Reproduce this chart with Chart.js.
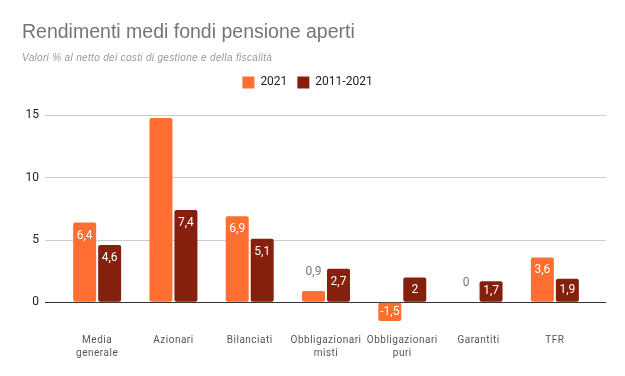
<!DOCTYPE html>
<html>
<head>
<meta charset="utf-8">
<script src="https://cdn.jsdelivr.net/npm/chart.js@4.4.1/dist/chart.umd.min.js"></script>
<style>
  html, body { margin: 0; padding: 0; background: #fff; }
  #wrap { width: 625px; height: 376px; }
</style>
</head>
<body>
<div id="wrap"><canvas id="fondiChart"></canvas></div>
<script>
// dati
const categories = [["Media", "generale"], ["Azionari"], ["Bilanciati"], ["Obbligazionari", "misti"], ["Obbligazionari", "puri"], ["Garantiti"], ["TFR"]];
const values2021 = [6.4, 14.8, 6.9, 0.9, -1.5, 0, 3.6];
const values2011_2021 = [4.6, 7.4, 5.1, 2.7, 2, 1.7, 1.9];
const show2021 = [true, false, true, true, true, true, true];
const show2011_2021 = [true, true, true, true, true, true, true];
const yTicks = [0, 5, 10, 15];

const orange = '#ff6f31';
const darkRed = '#86200e';
const subtitleText = 'Valori % al netto dei costi di gestione e della fiscalità';

Chart.defaults.font.family = 'Roboto, Arial, sans-serif';

// etichette dei valori (niente plugin datalabels disponibile)
const valueLabels = {
  id: 'valueLabels',
  afterDatasetsDraw(chart) {
    const ctx = chart.ctx;
    const shows = [show2021, show2011_2021];
    ctx.save();
    ctx.font = '12px Roboto, Arial, sans-serif';
    ctx.textAlign = 'center';
    ctx.textBaseline = 'middle';
    chart.data.datasets.forEach((ds, di) => {
      chart.getDatasetMeta(di).data.forEach((bar, i) => {
        if (!shows[di][i]) return;
        const v = ds.data[i];
        const txt = String(v).replace('.', ',');
        const h = Math.abs(bar.base - bar.y);
        let y;
        if (h < 16) {
          ctx.fillStyle = '#777';
          y = Math.min(bar.y, bar.base) - 19;
        } else {
          ctx.fillStyle = '#fff';
          const off = Math.min(13, h / 2);
          y = v >= 0 ? bar.y + off : bar.y - off;
        }
        ctx.fillText(txt, bar.x, y);
      });
    });
    ctx.restore();
  }
};

function addSpacing(box, spacing) {
  if (!box || box._spaced) return;
  const orig = box.draw.bind(box);
  box.draw = function (area) {
    this.ctx.save();
    this.ctx.letterSpacing = spacing;
    orig(area);
    this.ctx.restore();
  };
  box._spaced = true;
}

// griglia prolungata a destra, spaziatura lettere, spazio sotto la legenda
const tweaks = {
  id: 'tweaks',
  beforeInit(chart) {
    const fit = chart.legend.fit;
    chart.legend.fit = function () {
      fit.call(this);
      this.height += 17;
    };
  },
  afterLayout(chart) {
    const s = chart.scales.x;
    if (!s._spaced) {
      const orig = s.drawLabels.bind(s);
      s.drawLabels = function (area) {
        this.ctx.save();
        this.ctx.letterSpacing = '0.5px';
        orig(area);
        this.ctx.restore();
      };
      s._spaced = true;
    }
    const sub = chart.boxes.find(b => b.options && b.options.text === subtitleText);
    addSpacing(sub, '0.33px');
  },
  beforeDatasetsDraw(chart) {
    const ctx = chart.ctx;
    const y = chart.scales.y;
    const r = chart.chartArea.right;
    ctx.save();
    ctx.lineWidth = 1;
    yTicks.forEach(t => {
      const py = Math.round(y.getPixelForValue(t) - 0.5) + 0.5;
      ctx.strokeStyle = t === 0 ? '#333' : '#ccc';
      ctx.beginPath();
      ctx.moveTo(r, py);
      ctx.lineTo(r + 13, py);
      ctx.stroke();
    });
    ctx.restore();
  }
};

new Chart('fondiChart', {
  type: 'bar',
  data: {
    labels: categories,
    datasets: [
      { label: '2021', data: values2021, backgroundColor: orange },
      { label: '2011-2021', data: values2011_2021, backgroundColor: darkRed }
    ]
  },
  options: {
    responsive: true,
    maintainAspectRatio: false,
    animation: false,
    layout: { padding: { left: 22, right: 32, top: 0, bottom: 3 } },
    datasets: {
      bar: {
        categoryPercentage: 0.655,
        barPercentage: 0.92,
        borderRadius: 2,
        borderSkipped: false
      }
    },
    plugins: {
      title: {
        display: true,
        text: 'Rendimenti medi fondi pensione aperti',
        align: 'start',
        color: '#757575',
        font: { family: '"Liberation Sans", Arial, sans-serif', size: 19.5, weight: 'normal' },
        padding: { top: 21, bottom: 0 }
      },
      subtitle: {
        display: true,
        text: subtitleText,
        align: 'start',
        color: '#999',
        font: { family: '"Liberation Sans", Arial, sans-serif', size: 10, style: 'italic' },
        padding: { top: 8, bottom: 2 }
      },
      legend: {
        labels: {
          color: '#222',
          font: { size: 12 },
          boxWidth: 12,
          boxHeight: 12,
          padding: 10
        }
      },
      tooltip: { enabled: false }
    },
    scales: {
      x: {
        grid: { display: false, drawTicks: false },
        border: { display: false },
        ticks: {
          color: '#555',
          font: { size: 10, lineHeight: 1.3 },
          maxRotation: 0,
          autoSkip: false,
          padding: 13
        }
      },
      y: {
        min: -1.5,
        max: 15,
        afterBuildTicks: axis => { axis.ticks = yTicks.map(v => ({ value: v })); },
        afterFit: axis => { axis.width = 37; },
        border: { display: false },
        grid: {
          color: ctx => ctx.tick && ctx.tick.value === 0 ? '#333' : '#ccc',
          tickLength: 14
        },
        ticks: {
          color: '#222',
          font: { size: 12 },
          padding: 6
        }
      }
    }
  },
  plugins: [valueLabels, tweaks]
});
</script>
</body>
</html>
